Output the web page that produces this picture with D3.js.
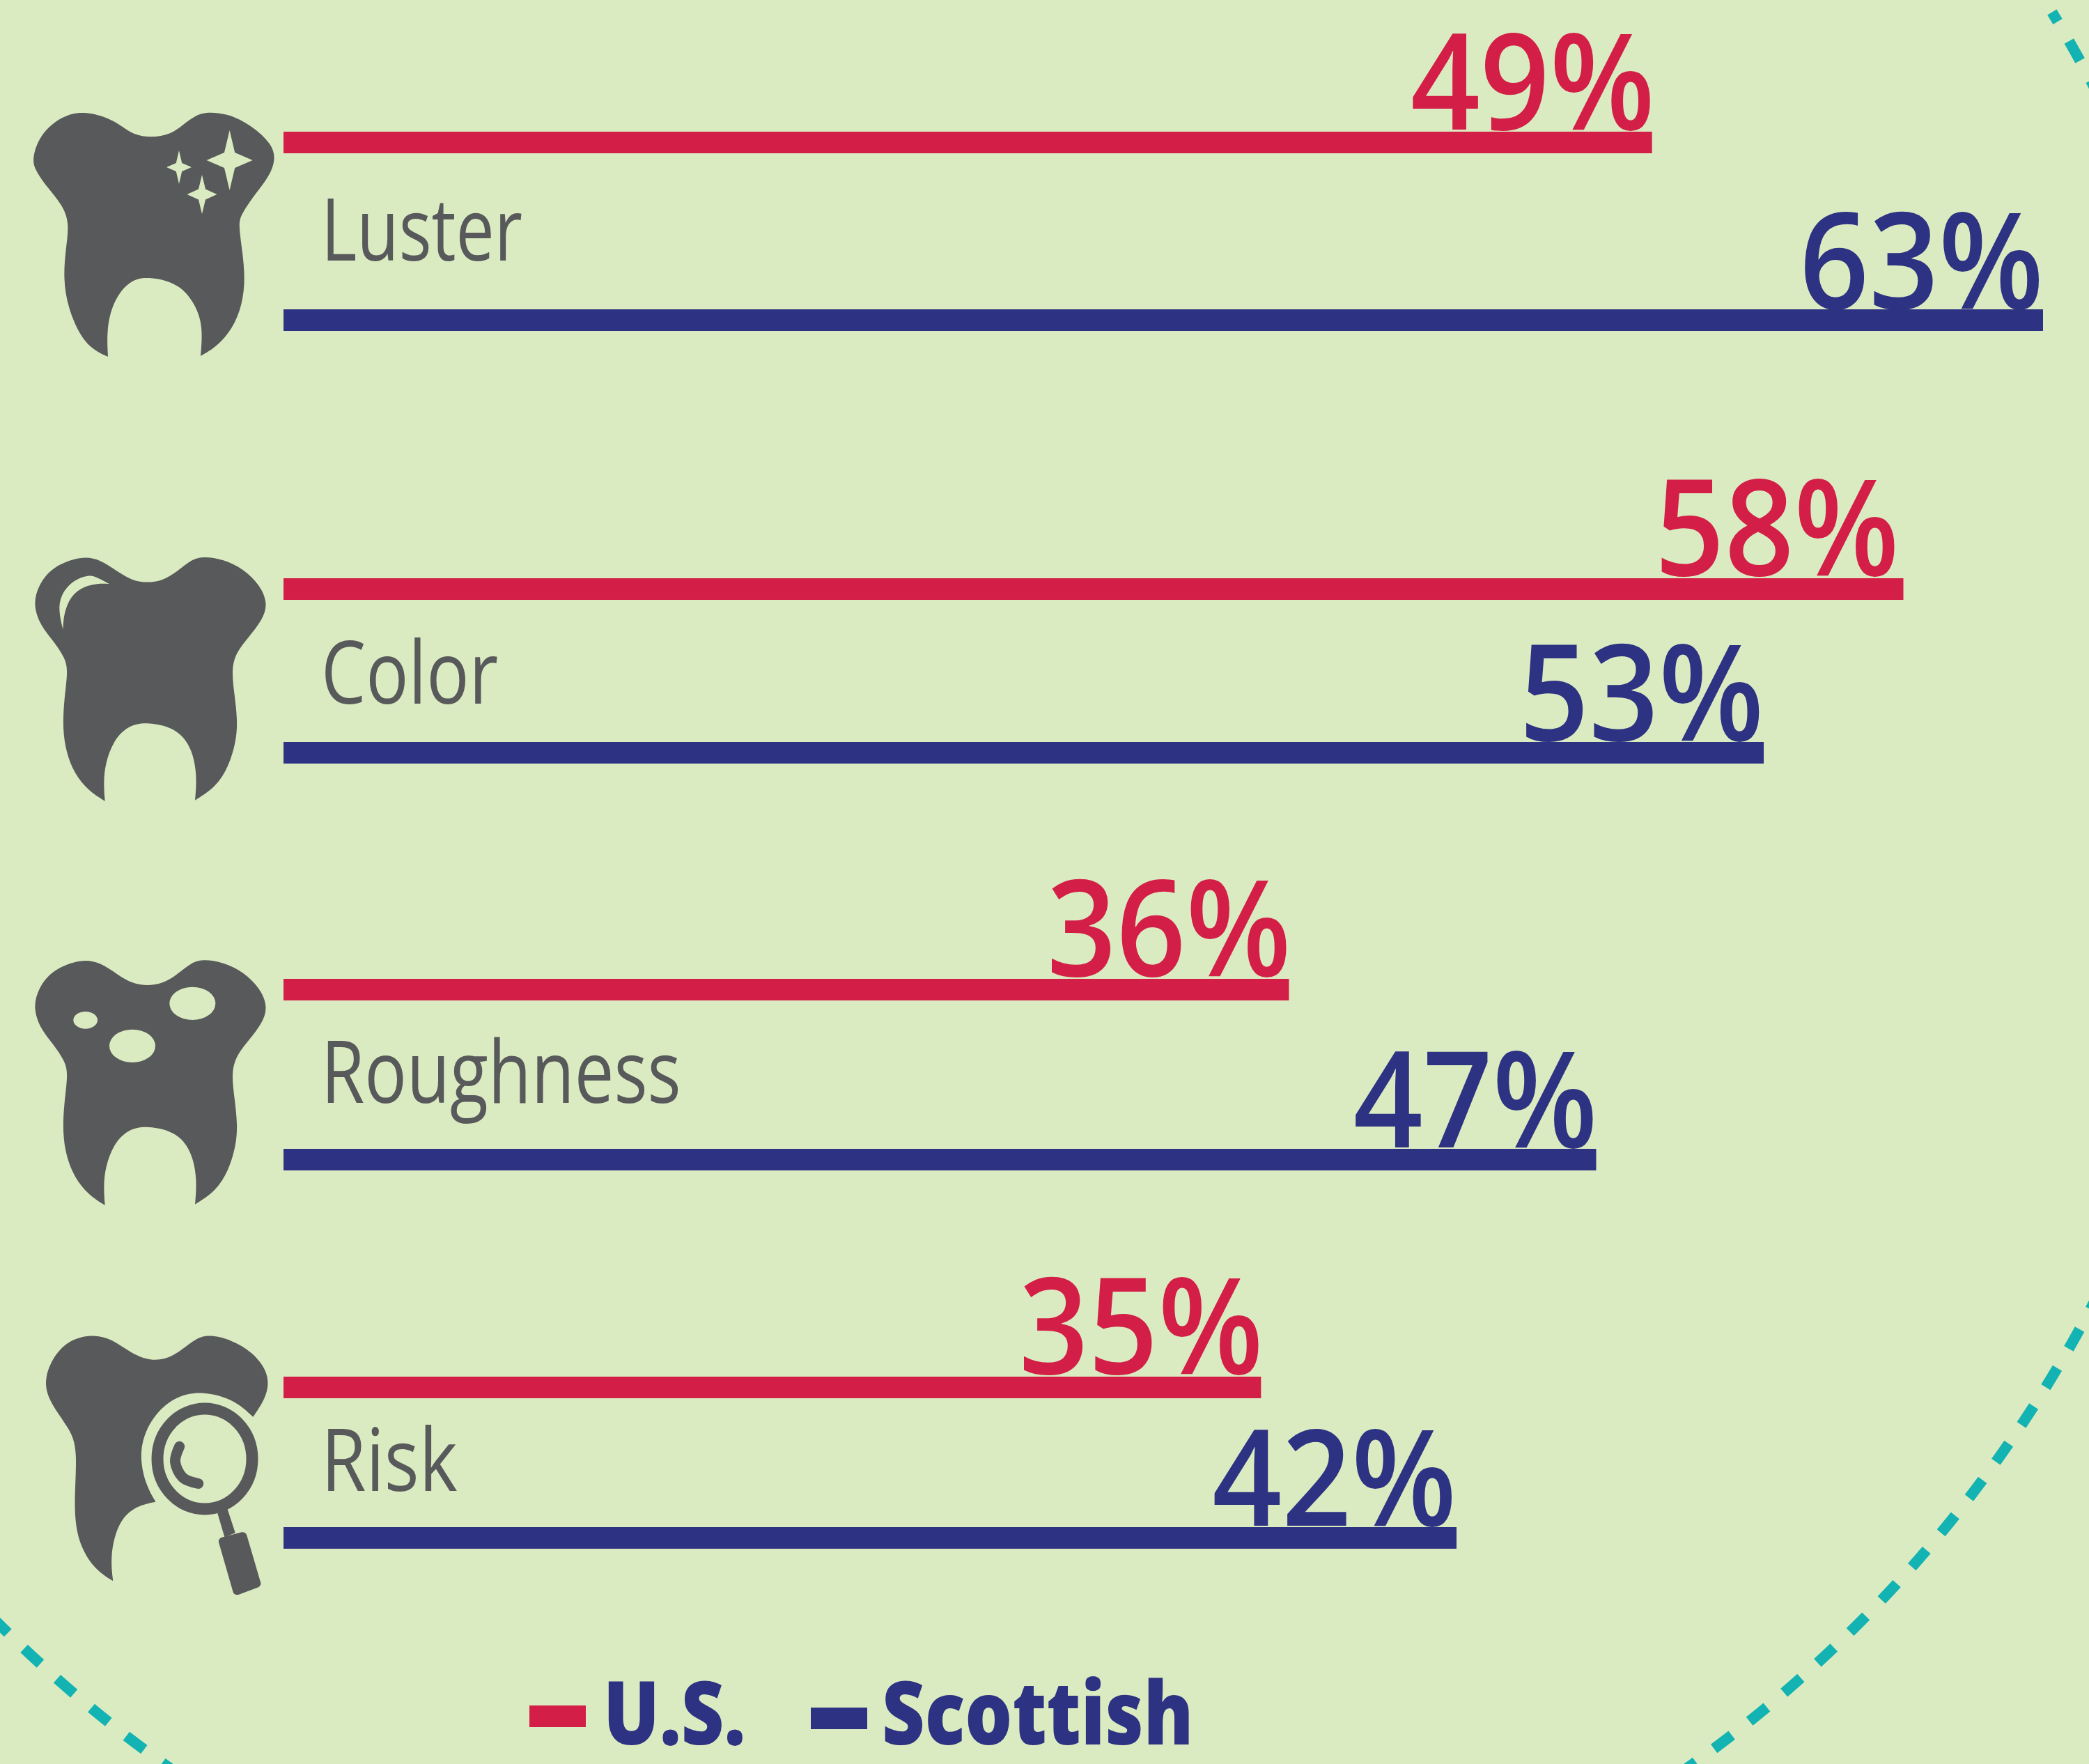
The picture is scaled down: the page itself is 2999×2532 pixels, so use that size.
<!DOCTYPE html>
<html><head><meta charset="utf-8">
<script src="https://cdn.jsdelivr.net/npm/d3@7"></script>
<style>html,body{margin:0;padding:0;background:#dbebc1}svg{display:block}</style>
</head><body><svg id="c" width="2999" height="2532"></svg>
<script>
// ---- data ----
const categories = ["Luster", "Color", "Roughness", "Risk"];
const seriesNames = ["U.S.", "Scottish"];
const usValues = [49, 58, 36, 35];
const scottishValues = [63, 53, 47, 42];

// ---- style / layout ----
const W = 2999, H = 2532;
const BG = "#dbebc1", RED = "#d31f47", NAVY = "#2d3282", GREY = "#58595b", TEAL = "#12b3b2";
const FONT = "'Open Sans', sans-serif";
const BAR_H = 31;

const svg = d3.select("#c");
svg.append("rect").attr("width", W).attr("height", H).attr("fill", BG);

// x scale: value -> pixel
const x = d3.scaleLinear().domain([0, 63]).range([407, 2933]);
const color = d3.scaleOrdinal().domain(seriesNames).range([RED, NAVY]);
const usTop = d3.scaleOrdinal().domain(categories).range([189, 830, 1405, 1976]);
const scotTop = d3.scaleOrdinal().domain(categories).range([444, 1065, 1649, 2192]);
const labelBase = d3.scaleOrdinal().domain(categories).range([374, 1010, 1583, 2140]);
const labelScale = d3.scaleOrdinal().domain(categories).range([0.787, 0.815, 0.808, 0.836]);
// value text baseline gap above the bar, and right inset from bar end
const usGap = d3.scaleOrdinal().domain(categories).range([3, 4, 4, 4]);
const scotGap = d3.scaleOrdinal().domain(categories).range([1, 2, 2, 2]);
const usInset = d3.scaleOrdinal().domain(categories).range([-4, 6, -3, -3]);
const scotInset = d3.scaleOrdinal().domain(categories).range([-1, 0, -2, 0]);

// dashed circle
const CX = 1333, CY = 997, R = 1887;
const a0 = Math.atan2(18 - CY, 2945 - CX);
const p = d3.path();
p.arc(CX, CY, R, a0, a0 + 3.2);
svg.append("path").attr("d", p.toString()).attr("fill", "none")
  .attr("stroke", TEAL).attr("stroke-width", 15.5)
  .attr("stroke-dasharray", "32 32.4").attr("stroke-dashoffset", 16);

// rows
const rows = categories.map((c, i) => ({c, us: usValues[i], sc: scottishValues[i]}));
const VAL_SIZE = 192, VAL_SX = 0.91;
function valueText(xp, yp, txt, col) {
  svg.append("text").attr("transform", `translate(${xp},${yp}) scale(${VAL_SX},1)`)
    .attr("text-anchor", "end").attr("font-family", FONT).attr("font-weight", 600)
    .attr("font-size", VAL_SIZE).attr("fill", col).text(txt);
}
rows.forEach(r => {
  valueText(x(r.us) - usInset(r.c), usTop(r.c) - usGap(r.c), r.us + "%", color("U.S."));
  valueText(x(r.sc) - scotInset(r.c), scotTop(r.c) - scotGap(r.c), r.sc + "%", color("Scottish"));
  svg.append("rect").attr("x", x(0)).attr("y", usTop(r.c)).attr("width", x(r.us) - x(0)).attr("height", BAR_H).attr("fill", color("U.S."));
  svg.append("rect").attr("x", x(0)).attr("y", scotTop(r.c)).attr("width", x(r.sc) - x(0)).attr("height", BAR_H).attr("fill", color("Scottish"));
  svg.append("text").attr("transform", `translate(461,${labelBase(r.c)}) scale(${labelScale(r.c)},1)`)
    .attr("font-family", FONT).attr("font-weight", 400).attr("font-size", 125).attr("fill", GREY).text(r.c);
});

// legend
function legend(name, sx0, sy0, tx, sc) {
  svg.append("rect").attr("x", sx0).attr("y", sy0).attr("width", 81).attr("height", BAR_H).attr("fill", color(name));
  svg.append("text").attr("transform", `translate(${tx},2504) scale(${sc},1)`)
    .attr("font-family", FONT).attr("font-weight", 800).attr("font-size", 125).attr("fill", NAVY).text(name);
}
legend("U.S.", 760, 2448, 866, 0.855);
legend("Scottish", 1164, 2451, 1266, 0.855);

// ---- tooth glyphs ----
const spline = d3.line().curve(d3.curveBasis);
function shape(segments, f) {
  return segments.map((s, i) => {
    const d = spline(s.map(f));
    return i === 0 ? d : "L" + d.slice(1);
  }).join("") + "Z";
}
function icon(d, fill) { return svg.append("path").attr("d", d).attr("fill", fill || GREY); }

// Tooth 1 (page pixels)
const t1 = [
 [[155,512],[135,503],[115,483],[97,440],[91,400],[94,360],[100,320],[89,293],[66,267],[50,243],[46,228],[57,193],[89,166],[121,159],[158,170],[176,182],[191,193],[217,198],[245,193],[263,179],[281,165],[301,160],[337,166],[367,185],[390,207],[396,228],[387,253],[365,280],[347,307],[342,320],[348,360],[352,400],[348,437],[334,472],[311,498],[288,511]],
 [[288,511],[291,473],[284,443],[260,408],[217,397],[186,401],[162,433],[153,473],[155,512]]
];
icon(shape(t1, d => d));
function star(cx, cy, hw, hh, wx, wy) {
  icon(`M${cx},${cy-hh}L${cx+wx},${cy-wy}L${cx+hw},${cy}L${cx+wx},${cy+wy}L${cx},${cy+hh}L${cx-wx},${cy+wy}L${cx-hw},${cy}L${cx-wx},${cy-wy}Z`, BG);
}
star(329.6, 230, 33, 43, 7.6, 11);
star(257, 240, 18, 24, 4.2, 6);
star(290, 279, 21.5, 28, 5, 7.5);

// Tooth 2 / 3 outline (3x crop units)
const t2 = [
 [[392,1110],[320,1065],[260,990],[225,900],[210,800],[215,680],[234,545],[218,490],[170,420],[115,355],[82,265],[105,180],[165,100],[290,54],[370,68],[450,124],[510,160],[575,170],[640,160],[700,124],[765,68],[820,56],[900,68],[990,110],[1060,180],[1094,260],[1070,330],[1010,405],[960,465],[936,540],[950,650],[964,770],[955,860],[925,960],[870,1050],[780,1106]],
 [[780,1106],[789,1000],[767,880],[700,795],[575,768],[490,785],[428,850],[393,950],[386,1030],[392,1110]]
];
const f2 = d => [20 + d[0]/3, 780 + d[1]/3];
icon(shape(t2, f2));
const crescent = [
 [[410,174],[355,145],[325,134],[250,160],[200,225],[192,290],[211,370]],
 [[211,370],[215,300],[245,225],[300,185],[360,172],[410,174]]
];
icon(shape(crescent, f2), BG);

const f3 = d => [20 + d[0]/3, 1360 + (d[1] - 5*(1110-d[1])/1050)/3];
icon(shape(t2, f3));
[[769,241,99,71],[510,424,99,71],[308,313,52,37]].forEach(e => {
  svg.append("ellipse").attr("cx", 20+e[0]/3).attr("cy", 1360+e[1]/3).attr("rx", e[2]/3).attr("ry", e[3]/3).attr("fill", BG);
});

// Tooth 4 with magnifier (crop units: x/1.96, y/2.405)
const f4 = d => [d[0]/1.96, 1880 + d[1]/2.405];
const t4 = [
 [[318,936],[270,900],[225,820],[205,700],[220,480],[195,410],[140,320],[123,250],[145,170],[190,106],[258,84],[315,100],[370,152],[430,180],[490,162],[545,103],[585,84],[650,103],[710,145],[752,210],[756,270],[740,320],[712,370]],
 [[712,370],[660,310],[570,280],[490,298],[420,380],[390,490],[408,600],[438,663]],
 [[438,663],[375,680],[330,740],[310,850],[318,936]]
];
icon(shape(t4, f4));
svg.append("ellipse").attr("cx", 294).attr("cy", 2094).attr("rx", 68).attr("ry", 72)
  .attr("fill", "none").attr("stroke", GREY).attr("stroke-width", 17);
svg.append("path").attr("d", d3.line().curve(d3.curveCatmullRom)([[505,472],[493,525],[515,580],[558,600]].map(f4)))
  .attr("fill", "none").attr("stroke", GREY).attr("stroke-width", 15).attr("stroke-linecap", "round");
icon("M" + [[612,702],[640,688],[662,770],[632,785]].map(f4).join("L") + "Z");
svg.append("path").attr("d", "M" + [[627,800],[667,970],[722,945],[683,782]].map(f4).join("L") + "Z")
  .attr("fill", GREY).attr("stroke", GREY).attr("stroke-width", 12).attr("stroke-linejoin", "round");
</script></body></html>
